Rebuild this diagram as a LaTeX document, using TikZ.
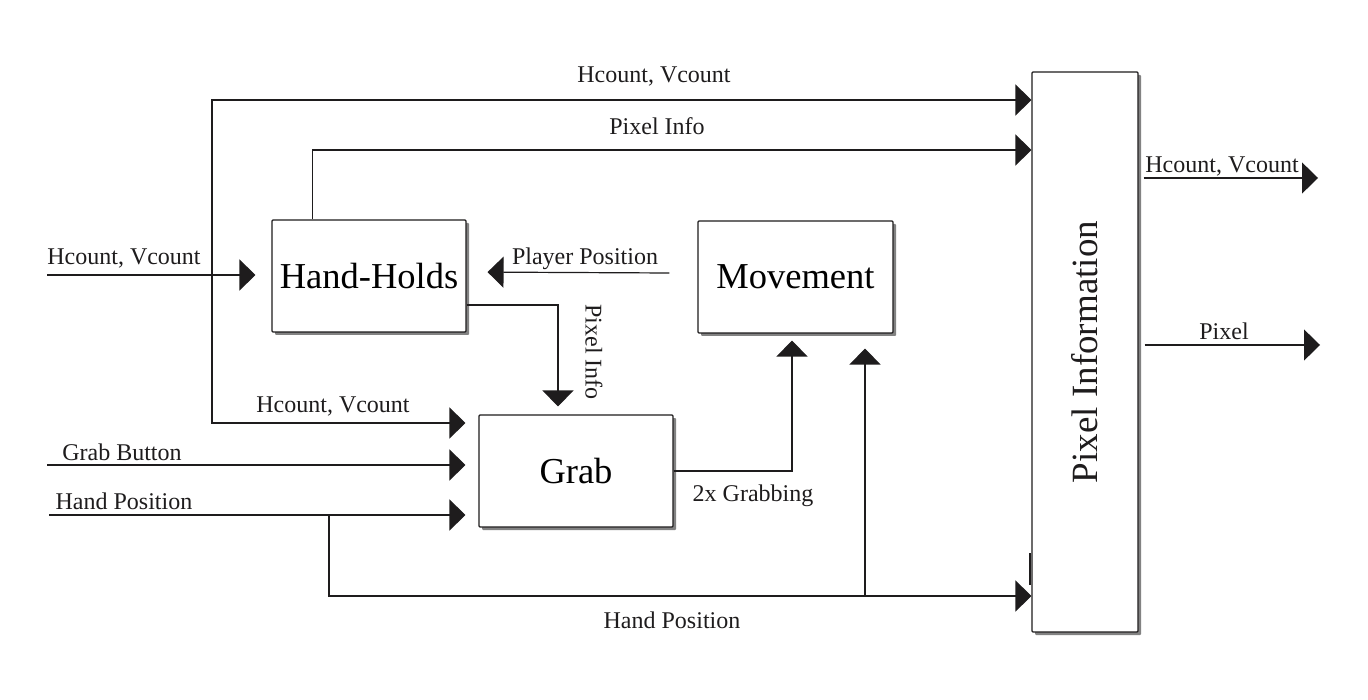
\documentclass[tikz,border=0pt]{standalone}
\usepackage{fontspec}
\setmainfont{Liberation Serif}
\usetikzlibrary{arrows.meta,shadows,calc}
\definecolor{ink}{HTML}{1E1C1D}
\tikzset{
  wire/.style={draw=ink, line width=1.2pt},
  arr/.style={wire, -{Triangle[length=16pt,width=31pt]}},
  blk/.style={draw=ink, line width=1.1pt, fill=white, rounded corners=1pt,
    drop shadow={shadow xshift=3pt, shadow yshift=-3pt, fill=black!65, opacity=0.75},
    inner sep=0pt, font=\fontsize{36.5}{44}\selectfont},
  lbl/.style={anchor=base, inner sep=0pt, text=ink, font=\fontsize{24}{29}\selectfont},
}
\begin{document}
\begin{tikzpicture}[x=1pt,y=-1pt]
\useasboundingbox[fill=white] (0,0) rectangle (1368,700);
% blocks
\node[blk, minimum width=194pt, minimum height=112pt] (hh) at (369,276) {Hand-Holds};
\node[blk, minimum width=195pt, minimum height=112pt] (mv) at (795.5,277) {Movement};
\node[blk, minimum width=194pt, minimum height=112pt] (gr) at (576,471) {Grab};
\node[blk, minimum width=106pt, minimum height=560pt,
  label={[rotate=90, font=\fontsize{37}{44}\selectfont, text=ink]center:Pixel Information}] (pi) at (1085,352) {};
% junction / free-end coordinates
\coordinate (inHV) at (47,275);
\coordinate (jHV) at (212,275);
\coordinate (inGB) at (47,465);
\coordinate (inHP) at (49,515);
\coordinate (jHP) at (329,515);
\coordinate (jHP2) at (865,596);
\coordinate (yTop) at (0,100);
\coordinate (yPI) at (0,150);
\coordinate (yGrHV) at (0,423);
\coordinate (yGB) at (0,465);
\coordinate (yHP) at (0,515);
\coordinate (yHP2) at (0,596);
\coordinate (oHV) at (1318,178);
\coordinate (oPx) at (1320,345);
% connectors
\draw[arr, shorten >=16pt] (inHV) -- (inHV -| hh.west);
\draw[arr] (jHV) |- (pi.west |- yTop);
\draw[arr, shorten >=13pt] (jHV) |- (gr.west |- yGrHV);
\draw[arr] ([xshift=41pt]hh.north west) |- (pi.west |- yPI);
\draw[arr, shorten >=8pt] ([yshift=-29pt]hh.east) -| ([xshift=-18pt]gr.north);
\draw[arr, shorten >=21pt] ([xshift=-28pt,yshift=4pt]mv.west) -- ([yshift=4pt]hh.east);
\draw[arr, shorten >=7pt] (gr.east) -| ([xshift=-3.5pt]mv.south);
\draw[arr, shorten >=13pt] (inGB) -- (gr.west |- yGB);
\draw[arr, shorten >=13pt] (inHP) -- (gr.west |- yHP);
\draw[arr] (jHP) |- (pi.west |- yHP2);
\draw[arr, shorten >=15pt] (jHP2) -- ([xshift=69.5pt]mv.south);
\draw[arr] ([xshift=5pt]pi.east |- oHV) -- (oHV);
\draw[arr] ([xshift=6pt]pi.east |- oPx) -- (oPx);
\draw[ink, line width=2pt] ([xshift=-1pt]pi.west |- 0,553) -- ([xshift=-1pt]pi.west |- 0,585);
% labels
\node[lbl] (l1) at (654,83) {Hcount, Vcount};
\node[lbl] (l2) at (657,135) {Pixel Info};
\node[lbl] (l3) at (124,265) {Hcount, Vcount};
\node[lbl] (l4) at (585,265) {Player Position};
\node[lbl, anchor=center, rotate=-90] (l5) at (594,352) {Pixel Info};
\node[lbl] (l6) at (333,413) {Hcount, Vcount};
\node[lbl] (l7) at (122,460) {Grab Button};
\node[lbl] (l8) at (124,509) {Hand Position};
\node[lbl] (l9) at (753,501) {2x Grabbing};
\node[lbl] (l10) at (672,628) {Hand Position};
\node[lbl] (l11) at (1222,173) {Hcount, Vcount};
\node[lbl] (l12) at (1224,340) {Pixel};
\end{tikzpicture}
\end{document}
